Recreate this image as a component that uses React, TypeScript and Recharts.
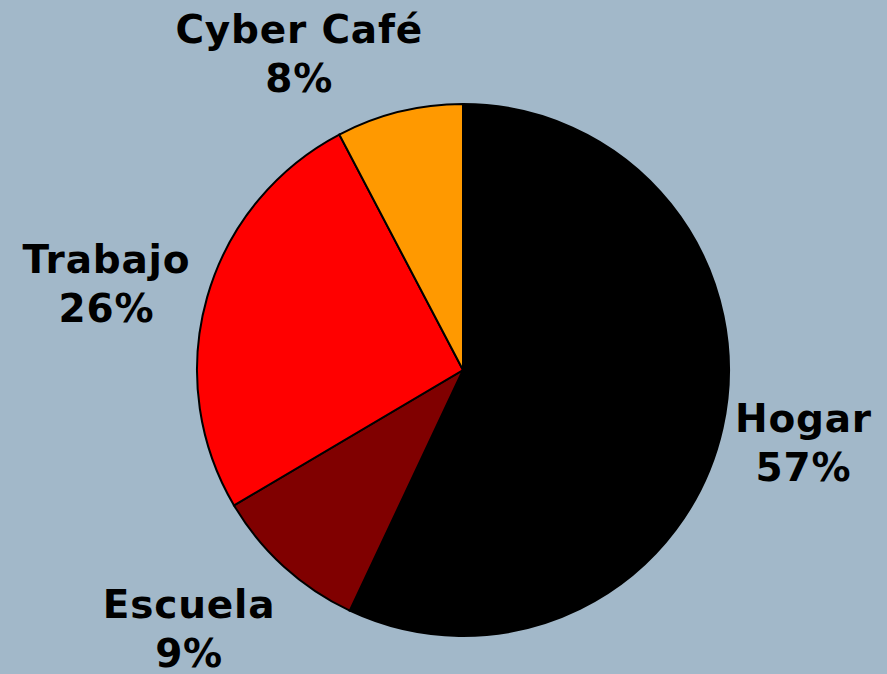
import { PieChart, Pie, Cell } from 'recharts';

const categories = ['Hogar', 'Escuela', 'Trabajo', 'Cyber Café'];
const shares = [57.0, 9.5, 25.8, 7.7];
const percentLabels = ['57%', '9%', '26%', '8%'];
const sliceColors = ['#000000', '#800000', '#FF0000', '#FF9900'];

// Excel "best fit" style nudges for the outside labels
const labelNudge = [
  [9, 5],
  [-28, 27],
  [-5, 0],
  [-67, -12],
];

const data = categories.map((name, i) => ({
  name,
  value: shares[i],
  pct: percentLabels[i],
}));

const RADIAN = Math.PI / 180;
const FONT = 39;

function renderLabel(props: any) {
  const { cx, cy, midAngle, outerRadius, index } = props;
  const name = categories[index];
  const pct = percentLabels[index];
  const dx = Math.cos(-midAngle * RADIAN);
  const dy = Math.sin(-midAngle * RADIAN);
  const ax = cx + (outerRadius + 9) * dx;
  const ay = cy + (outerRadius + 9) * dy;
  const w = Math.max(name.length, pct.length) * 0.68 * 38;
  const h = 77;
  const bx = ax + (dx * w) / 2 + labelNudge[index][0];
  const by = ay + (dy * h) / 2 + labelNudge[index][1];
  return (
    <text
      key={`lbl-${index}`}
      x={bx}
      y={by}
      textAnchor="middle"
      fill="#000"
      fontFamily="'DejaVu Sans', Verdana, sans-serif"
      fontWeight="bold"
      fontSize={FONT}
      letterSpacing={0.8}
    >
      <tspan x={bx} y={by - 11}>
        {name}
      </tspan>
      <tspan x={bx} y={by + 38}>
        {pct}
      </tspan>
    </text>
  );
}

export default function App() {
  return (
    <div
      style={{
        position: 'absolute',
        left: 0,
        top: 0,
        width: 887,
        height: 674,
        background: '#A2B8C9',
      }}
    >
      <PieChart
        width={887}
        height={674}
        margin={{ top: 0, right: 0, bottom: 0, left: 0 }}
      >
        <Pie
          data={data}
          dataKey="value"
          nameKey="name"
          cx={463}
          cy={370}
          outerRadius={266}
          startAngle={90}
          endAngle={-270}
          stroke="#000"
          strokeWidth={2}
          label={renderLabel}
          labelLine={false}
          isAnimationActive={false}
        >
          {data.map((d, i) => (
            <Cell key={d.name} fill={sliceColors[i]} />
          ))}
        </Pie>
      </PieChart>
    </div>
  );
}
